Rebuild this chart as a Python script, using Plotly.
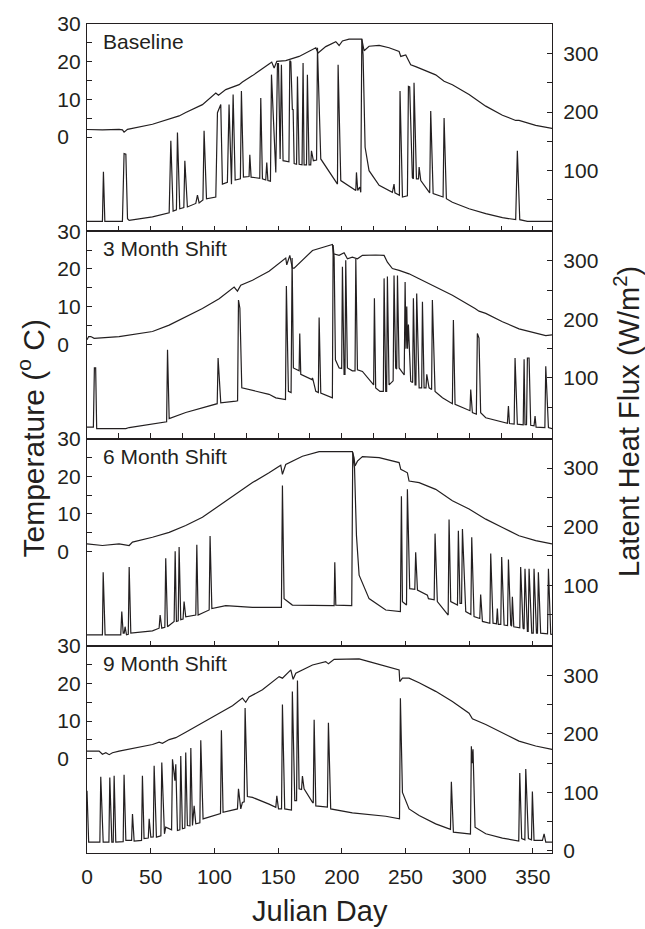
import plotly.graph_objects as go

# ---------------- data (day, value) ----------------
# Temperature (deg C, left axis) and latent heat flux (W/m2, right axis)

baseline_temp = [(0, 2.0), (12.1, 1.9), (25.2, 2.05), (27.8, 1.9), (29.1, 1.3), (31.8, 2.05),
    (51.4, 3.4), (64.5, 4.7), (72.3, 5.6), (77.5, 6.5), (90.6, 8.6), (101.1, 11.7), (103.2, 11.1),
    (108.9, 12.6), (119.4, 13.9), (122.0, 14.6), (129.9, 16.3), (142.9, 19.4), (145.0, 19.9),
    (146.9, 18.3), (149.0, 20.1), (156.0, 20.3), (166.5, 21.4), (179.6, 23.7), (181.4, 22.3),
    (187.4, 24.0), (195.3, 25.3), (197.9, 24.3), (200.5, 25.5), (205.7, 26.0), (215.7, 26.0),
    (217.5, 22.9), (221.4, 24.1), (229.3, 24.3), (237.1, 23.7), (245.0, 22.7), (246.3, 21.4),
    (250.2, 21.8), (254.1, 19.2), (258.0, 18.7), (273.7, 16.5), (280.3, 14.8), (286.8, 13.9),
    (299.9, 11.3), (313.0, 8.2), (326.1, 5.8), (336.5, 4.4), (339.1, 4.4), (352.2, 3.1), (365.0, 2.3)]

baseline_flux = [(0, 13.5), (12.1, 13.5), (12.9, 98), (14.0, 13.5), (27.8, 13.5), (29.1, 129),
    (30.5, 128), (31.8, 18), (33.1, 15), (51.4, 21), (64.5, 28), (65.8, 151), (67.6, 31), (70.2, 33),
    (71.0, 165), (72.8, 35), (76.0, 37), (76.8, 117), (78.8, 38), (85.4, 44), (86.7, 58), (88.0, 45),
    (91.0, 50), (91.9, 168), (93.8, 52), (101.1, 55), (102.4, 199), (105.0, 213), (106.3, 77),
    (110.2, 80), (111.5, 213), (113.4, 77), (114.7, 230), (116.3, 84), (120.4, 86), (121.2, 236),
    (122.8, 89), (127.2, 90), (127.8, 127), (128.8, 89), (135.6, 87), (136.4, 224), (137.7, 86),
    (140.3, 84), (141.1, 114), (142.0, 83), (144.0, 82), (144.8, 264), (148.2, 97), (149.5, 283),
    (150.3, 283), (151.6, 120), (152.6, 281), (153.9, 117), (158.5, 115), (159.2, 288), (160.0, 286),
    (161.2, 204), (161.8, 205), (162.6, 112), (164.5, 111), (165.2, 261), (166.5, 111), (168.8, 110),
    (169.6, 284), (170.4, 110), (172.3, 110), (173.0, 264), (174.3, 110), (175.6, 110), (176.2, 134),
    (177.7, 117), (180.2, 118), (180.9, 310), (183.5, 120), (196.6, 77), (197.1, 281), (199.2, 83),
    (211.0, 66), (211.5, 97), (212.5, 66), (214.1, 72), (214.9, 63), (215.7, 325), (216.7, 298),
    (218.3, 140), (221.4, 100), (229.3, 75), (239.7, 63), (241.0, 77), (241.7, 62), (245.2, 58),
    (245.7, 236), (247.6, 55), (251.5, 57), (252.3, 244), (253.3, 243), (255.4, 88), (256.2, 86),
    (256.7, 250), (258.6, 86), (260.2, 86), (260.7, 106), (262.0, 83), (269.0, 62), (269.8, 202),
    (271.7, 61), (279.5, 55), (280.3, 190), (282.1, 52), (286.8, 46), (299.9, 35), (313.0, 26.5),
    (326.1, 19.7), (336.5, 16.3), (337.8, 134), (339.7, 16.3), (345.7, 13.5), (365.0, 13.5)]

shift3_temp = [(0, 1.2), (1.3, 2.05), (3.0, 2.05), (5.6, 1.6), (25.2, 2.05), (51.4, 3.4),
    (64.5, 5.1), (77.5, 7.3), (90.6, 9.5), (103.7, 12.1), (115.5, 15.2), (118.1, 14.1),
    (120.7, 15.7), (129.9, 17.0), (142.9, 19.4), (156.0, 22.9), (156.8, 21.1), (159.2, 23.6),
    (161.2, 20.2), (162.6, 20.2), (177.0, 24.9), (192.6, 26.5), (193.5, 24.0), (197.9, 23.6),
    (201.8, 24.3), (204.4, 22.7), (208.3, 23.1), (212.3, 22.7), (216.2, 23.6), (226.6, 23.7),
    (233.2, 23.6), (235.8, 21.8), (239.7, 20.1), (245.0, 19.6), (252.8, 18.7), (260.7, 17.4),
    (271.1, 15.7), (286.8, 13.0), (304.6, 9.5), (307.7, 8.8), (313.0, 8.2), (326.1, 6.0),
    (339.1, 4.1), (352.2, 2.9), (360.1, 2.3), (365.0, 2.5)]

shift3_flux = [(0, 16), (5.0, 16), (5.8, 117), (6.8, 117), (7.6, 13.5), (30.5, 13.5), (33.1, 15.2),
    (59.2, 24), (62.5, 25), (63.2, 148), (64.5, 30.5), (77.5, 41), (99.8, 55), (102.2, 56),
    (102.9, 134), (105.0, 57.6), (116.8, 60.4), (118.2, 61), (118.9, 233), (120.0, 219), (121.5, 83),
    (129.9, 79), (142.9, 72), (148.2, 66), (155.8, 63), (156.5, 257), (158.1, 77), (160.2, 75),
    (161.0, 305), (162.0, 117), (166.5, 112), (167.0, 176), (167.8, 106), (176.6, 97), (177.0, 100),
    (177.4, 97), (179.6, 77), (181.6, 75), (182.2, 203), (183.5, 74), (192.6, 66), (193.2, 327),
    (194.0, 305), (195.0, 131), (197.9, 117), (199.9, 116), (200.5, 290), (201.8, 106), (202.5, 106),
    (203.1, 301), (204.4, 117), (208.3, 112), (210.4, 112), (211.0, 303), (212.3, 114), (216.2, 111),
    (224.0, 89), (225.0, 88), (225.6, 236), (226.6, 83), (230.0, 77), (232.6, 77), (233.2, 270),
    (234.5, 77), (235.2, 77), (235.8, 273), (237.1, 88), (240.3, 95), (241.0, 275), (242.3, 117),
    (243.1, 115), (243.7, 275), (245.0, 117), (249.0, 105), (249.7, 264), (250.4, 150), (251.0, 222),
    (251.6, 150), (252.3, 191), (254.1, 94), (255.6, 92), (256.2, 236), (257.5, 88), (258.2, 88),
    (258.8, 244), (260.7, 83), (262.7, 83), (263.3, 230), (264.6, 83), (266.1, 83), (266.7, 106),
    (268.5, 83), (270.5, 80), (271.1, 233), (273.2, 77), (279.0, 66), (286.8, 56), (287.6, 199),
    (288.9, 55), (299.9, 44.6), (300.6, 44), (301.2, 80), (302.5, 40.6), (305.6, 38), (306.4, 176),
    (307.7, 168), (309.0, 40.6), (313.0, 32), (326.1, 23.7), (330.0, 22.5), (330.8, 52), (331.6, 22),
    (335.3, 21), (336.0, 134), (337.8, 21), (342.4, 20), (343.1, 132), (343.8, 20), (345.0, 20),
    (345.7, 134), (347.0, 134), (348.3, 19), (350.9, 18), (351.7, 35), (352.5, 16), (359.4, 15.2),
    (360.1, 120), (362.2, 15.2), (365.0, 13.5)]

shift6_temp = [(0, 2.05), (12.1, 1.6), (25.2, 2.05), (33.1, 1.6), (35.7, 2.5), (51.4, 3.8),
    (64.5, 5.1), (77.5, 6.9), (90.6, 9.1), (103.7, 12.1), (116.8, 15.2), (129.9, 18.3),
    (142.9, 20.9), (152.1, 22.9), (153.4, 20.5), (156.0, 23.1), (169.1, 25.3), (182.2, 26.5),
    (208.3, 26.5), (209.6, 24.9), (210.4, 22.7), (212.3, 24.0), (216.2, 25.2), (229.3, 24.9),
    (245.0, 23.6), (246.3, 21.8), (248.9, 21.4), (251.5, 20.9), (252.8, 18.7), (260.7, 18.3),
    (273.7, 16.5), (284.2, 13.9), (286.8, 13.5), (299.9, 11.3), (313.0, 8.6), (326.1, 6.4),
    (339.1, 4.2), (352.2, 2.9), (365.0, 2.05)]

shift6_flux = [(0, 15.2), (12.1, 15.2), (12.7, 122), (14.2, 15.2), (26.5, 15.2), (27.3, 55),
    (28.4, 18), (29.2, 18), (29.9, 29), (31.0, 15.2), (32.4, 16), (33.1, 131), (34.4, 18), (51.4, 22),
    (56.6, 26.5), (57.4, 49), (58.7, 26.5), (61.1, 28), (61.8, 146), (63.2, 29), (68.4, 38),
    (69.2, 158), (70.2, 38), (71.6, 39), (72.3, 165), (73.6, 41), (75.4, 42), (76.2, 72), (77.5, 46),
    (85.4, 49), (86.2, 169), (87.2, 49), (95.9, 57.6), (96.6, 184), (98.0, 60), (108.9, 65),
    (129.9, 62), (152.6, 62), (153.4, 270), (154.7, 77), (161.2, 66), (182.2, 65), (194.0, 65),
    (194.5, 139), (195.3, 66), (207.8, 65), (208.6, 327), (210.0, 300), (211.5, 185), (213.6, 117),
    (221.4, 77), (234.5, 57.6), (246.0, 54.8), (246.8, 252), (247.6, 71.8), (250.8, 66), (251.5, 264),
    (253.3, 94), (257.3, 93), (258.0, 156), (259.4, 91.5), (267.2, 83), (268.0, 77), (272.5, 75),
    (273.2, 188), (275.0, 72), (283.5, 49), (284.2, 212), (285.5, 72), (290.8, 66), (291.5, 193),
    (292.8, 69), (294.0, 69), (294.7, 196), (297.3, 54.8), (301.3, 50), (302.0, 182), (303.8, 46.3),
    (308.3, 43), (309.0, 84), (310.4, 38), (316.2, 35), (316.9, 154), (318.7, 35), (321.4, 34),
    (322.1, 60), (322.8, 33), (324.8, 33), (325.5, 148), (327.4, 32), (330.1, 31), (330.8, 144),
    (332.6, 32), (333.3, 30), (333.9, 80), (335.0, 29), (339.7, 27), (340.4, 131), (342.3, 26.5),
    (343.1, 25), (343.8, 128), (345.7, 21), (346.3, 21), (347.0, 128), (349.1, 18), (350.3, 18),
    (350.9, 128), (352.8, 18), (353.6, 18), (354.3, 122), (356.1, 18), (361.5, 17), (362.2, 128),
    (364.0, 16.3), (365.0, 16)]

shift9_temp = [(0, 2.05), (9.5, 2.05), (12.1, 1.2), (14.8, 1.6), (17.4, 1.1), (20.0, 1.6),
    (25.2, 2.05), (38.3, 2.9), (51.4, 3.8), (56.6, 4.4), (59.2, 4.1), (64.5, 5.1), (69.7, 5.6),
    (77.5, 7.05), (88.0, 9.1), (103.7, 12.1), (114.2, 14.1), (122.0, 16.1), (124.6, 15.0),
    (127.2, 16.4), (137.7, 18.3), (150.8, 21.8), (153.4, 21.4), (160.0, 23.6), (161.8, 21.1),
    (163.9, 22.7), (166.5, 23.1), (177.0, 24.9), (187.4, 25.8), (189.5, 25.2), (194.0, 26.4),
    (213.6, 26.5), (221.4, 25.8), (234.5, 24.6), (245.0, 23.6), (245.5, 20.5), (247.6, 21.4),
    (252.8, 21.4), (260.7, 20.2), (273.7, 17.9), (286.8, 15.2), (299.9, 12.1), (302.5, 10.6),
    (313.0, 9.1), (326.1, 6.9), (339.1, 4.7), (352.2, 3.4), (365.0, 2.5)]

shift9_flux = [(0, 103), (1.3, 15.2), (10.1, 15.2), (10.8, 126.6), (12.7, 15.2), (17.2, 15.2),
    (17.9, 125.5), (19.5, 15.2), (20.6, 15.2), (21.3, 128.3), (22.6, 15.2), (28.4, 16), (29.1, 130),
    (30.5, 18), (35.0, 18), (35.7, 63), (37.0, 16.9), (42.8, 18), (43.5, 128.3), (44.8, 21),
    (48.1, 22), (48.8, 54.8), (50.1, 23.7), (52.0, 24), (52.7, 145.3), (54.5, 23.7), (58.0, 26),
    (58.7, 151), (60.8, 29.3), (61.8, 40.6), (66.4, 36), (67.1, 156.6), (69.0, 120), (69.7, 148),
    (71.0, 35), (72.9, 36), (73.6, 162), (74.9, 37.8), (76.8, 39), (77.5, 168), (78.8, 43.5),
    (80.8, 43), (81.5, 176), (82.8, 43.5), (84.1, 77), (85.4, 46.3), (88.6, 48), (89.3, 189),
    (91.1, 54.8), (103.7, 63.3), (104.8, 64), (105.5, 206.3), (106.8, 66), (118.1, 71.8),
    (118.9, 106), (120.7, 71.8), (122.0, 83), (123.4, 84), (124.1, 244), (125.9, 93), (129.9, 91.5),
    (142.9, 80), (148.2, 74.6), (149.0, 94), (150.3, 71.8), (152.7, 72), (153.4, 250), (155.2, 71.8),
    (160.5, 70), (161.2, 272.5), (163.1, 86), (164.5, 86), (165.2, 291), (166.5, 106), (168.4, 105),
    (169.1, 128), (170.4, 106), (177.0, 83), (177.6, 82), (178.3, 224), (179.6, 77), (188.7, 75),
    (189.5, 219), (191.3, 71.8), (208.3, 65), (234.5, 59.3), (245.3, 55), (246.0, 261), (247.6, 100),
    (252.8, 71.8), (260.7, 60.4), (273.7, 46.3), (284.2, 37.8), (285.3, 37), (286.0, 118),
    (287.6, 32), (299.9, 29.3), (301.0, 29), (301.7, 179), (302.3, 150), (303.0, 173.5),
    (304.6, 40.6), (313.0, 29.3), (326.1, 22), (338.9, 17), (339.7, 133), (341.2, 21), (343.7, 19),
    (344.4, 140), (346.5, 21), (348.9, 19), (349.6, 101.7), (350.9, 18), (357.5, 18), (358.8, 29),
    (360.1, 15.2), (365.0, 15.2)]

panel_names = ["Baseline", "3 Month Shift", "6 Month Shift", "9 Month Shift"]
x_tick_step = [25, 25, 50, 50]
day_labels = [0, 50, 100, 150, 200, 250, 300, 350]
temp_ticks = [0, 5, 10, 15, 20, 25, 30]
temp_ticktext = ["0\u2007", " ", "10", " ", "20", " ", "30"]
flux_ticks = [50, 100, 150, 200, 250, 300]
flux_ticktext = [" ", "100", " ", "200", " ", "300"]

# ---------------- figure ----------------
INK = "#231f20"
FONT = "Liberation Sans, Arial, Helvetica, sans-serif"
T_RANGE = [-25, 30]
F_RANGE = [-3.5, 350.5]

series = [(baseline_temp, baseline_flux), (shift3_temp, shift3_flux),
          (shift6_temp, shift6_flux), (shift9_temp, shift9_flux)]

fig = go.Figure()
layout = {}
annotations = []
for i, (temp, flux) in enumerate(series):
    p = i + 1
    xa = "x" if p == 1 else f"x{p}"
    yl = "y" if p == 1 else f"y{2 * p - 1}"
    yr = f"y{2 * p}"
    xkey = "xaxis" if p == 1 else f"xaxis{p}"
    ylkey = "yaxis" if p == 1 else f"yaxis{2 * p - 1}"
    yrkey = f"yaxis{2 * p}"
    top = 1 - i / 4
    bot = 1 - (i + 1) / 4

    fig.add_trace(go.Scatter(x=[d for d, _ in temp], y=[v for _, v in temp], mode="lines",
                             line=dict(color=INK, width=1.2), xaxis=xa, yaxis=yl,
                             showlegend=False, hoverinfo="skip"))
    fig.add_trace(go.Scatter(x=[d for d, _ in flux], y=[v for _, v in flux], mode="lines",
                             line=dict(color=INK, width=1.2), xaxis=xa, yaxis=yr,
                             showlegend=False, hoverinfo="skip"))

    common = dict(showgrid=False, zeroline=False, showline=True, linecolor=INK, linewidth=1.3,
                  ticks="inside", ticklen=5, tickwidth=1.2, tickcolor=INK,
                  tickfont=dict(family=FONT, size=21, color=INK))
    xt = list(range(0, 351, x_tick_step[i]))
    layout[xkey] = dict(common, domain=[0, 1], anchor=yl, range=[0, 365], mirror=True,
                        tickvals=xt,
                        ticktext=[str(v) if (p == 4 and v in day_labels) else " " for v in xt],
                        showticklabels=(p == 4), ticklabelstandoff=5)
    layout[ylkey] = dict(common, domain=[bot, top], anchor=xa, range=T_RANGE,
                         tickvals=temp_ticks, ticktext=temp_ticktext, ticklabelstandoff=1)
    fv = flux_ticks + ([0] if p == 4 else [])
    ft = flux_ticktext + (["0"] if p == 4 else [])
    layout[yrkey] = dict(common, overlaying=yl, side="right", anchor=xa, range=F_RANGE,
                         tickvals=fv, ticktext=ft, ticklabelstandoff=6)

    annotations.append(dict(text=panel_names[i], xref=xa, x=10.8, xanchor="left",
                            yref=f"{yl} domain", y=1, yanchor="top", yshift=-4,
                            showarrow=False, font=dict(family=FONT, size=21, color=INK)))

annotations += [
    dict(text="Julian Day", xref="paper", x=0.5, yref="paper", y=0, yshift=-58,
         yanchor="middle", showarrow=False, font=dict(family=FONT, size=29, color=INK)),
    dict(text="Temperature (<sup>o</sup> C)", xref="paper", x=0, xshift=-56, xanchor="center",
         yref="paper", y=0.5, yanchor="middle", textangle=-90, showarrow=False,
         font=dict(family=FONT, size=30, color=INK)),
    dict(text="Latent Heat Flux (W/m<sup>2</sup>)", xref="paper", x=1, xshift=75, xanchor="center",
         yref="paper", y=0.52, yanchor="middle", textangle=-90, showarrow=False,
         font=dict(family=FONT, size=29, color=INK)),
]

fig.update_layout(width=645, height=929, margin=dict(l=87, r=93, t=18, b=76),
                  paper_bgcolor="white", plot_bgcolor="white",
                  font=dict(family=FONT, color=INK), annotations=annotations, **layout)

fig.write_html("out.html")
